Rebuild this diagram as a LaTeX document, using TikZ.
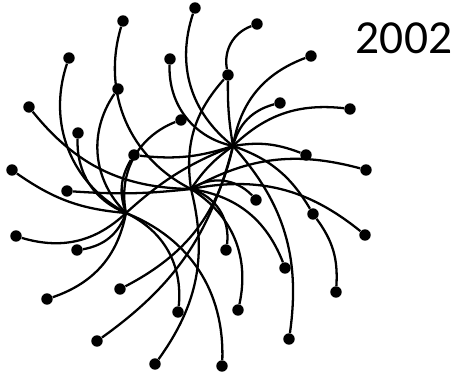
\documentclass[tikz,border=0pt]{standalone}
\usepackage{fontspec}
\setmainfont{Carlito}

\begin{document}
\begin{tikzpicture}[x=0.02cm, y=0.02cm,
  dot/.style={circle, fill=black, inner sep=0pt, minimum size=6.5},
  spoke/.style={line width=1.3pt, black},
  yearlbl/.style={font=\fontsize{27}{30}\selectfont}
]
  \useasboundingbox (0,0) rectangle (456,375);

  % hubs
  \coordinate (h1) at (233,229);
  \coordinate (h2) at (191,186);
  \coordinate (h3) at (126,162);

  % end points
  \node[dot] (a)  at (195,367) {};
  \node[dot] (b)  at (257,351) {};
  \node[dot] (c)  at (228,300) {};
  \node[dot] (d)  at (311,319) {};
  \node[dot] (e)  at (280,272) {};
  \node[dot] (f)  at (350,266) {};
  \node[dot] (g)  at (170,316) {};
  \node[dot] (k)  at (123,354) {};
  \node[dot] (l)  at (69,317) {};
  \node[dot] (m)  at (29,268) {};
  \node[dot] (n)  at (78,242) {};
  \node[dot] (o)  at (118,286) {};
  \node[dot] (p)  at (181,255) {};
  \node[dot] (q)  at (134,220) {};
  \node[dot] (r)  at (12,205) {};
  \node[dot] (s)  at (67,184) {};
  \node[dot] (t)  at (306,220) {};
  \node[dot] (u)  at (366,205) {};
  \node[dot] (v)  at (256,175) {};
  \node[dot] (w)  at (313,161) {};
  \node[dot] (x)  at (365,140) {};
  \node[dot] (y)  at (285,107) {};
  \node[dot] (z)  at (336,83) {};
  \node[dot] (aa) at (238,65) {};
  \node[dot] (ab) at (289,36) {};
  \node[dot] (ac) at (16,139) {};
  \node[dot] (ad) at (77,125) {};
  \node[dot] (ae) at (47,76) {};
  \node[dot] (af) at (120,86) {};
  \node[dot] (ag) at (178,63) {};
  \node[dot] (ah) at (97,34) {};
  \node[dot] (ai) at (155,11) {};
  \node[dot] (aj) at (222,9) {};
  \node[dot] (ak) at (226,125) {};

  \node[yearlbl] (year) at (404,337) {2002};

  % spokes, all curling the same way
  \foreach \tg/\bn in {a/35, c/5, d/30, e/30, f/25, g/40, t/15, w/20,
                       ab/25, af/25, ah/20, q/12}
    \draw[spoke] (h1) to[bend left=\bn] (\tg);
  \foreach \tg/\bn in {k/40, m/25, s/5, v/40, x/25, y/30, aa/35, ak/40,
                       ai/25, c/25, u/22, h1/10}
    \draw[spoke] (h2) to[bend left=\bn] (\tg);
  \foreach \tg/\bn in {l/40, n/35, o/40, p/40, q/25, r/15, ac/30, ad/30,
                       ae/30, ag/35, aj/35, h1/10}
    \draw[spoke] (h3) to[bend left=\bn] (\tg);
  \draw[spoke] (c) to[bend left=40] (b);
  \draw[spoke] (w) to[bend left=20] (z);

\end{tikzpicture}
\end{document}
